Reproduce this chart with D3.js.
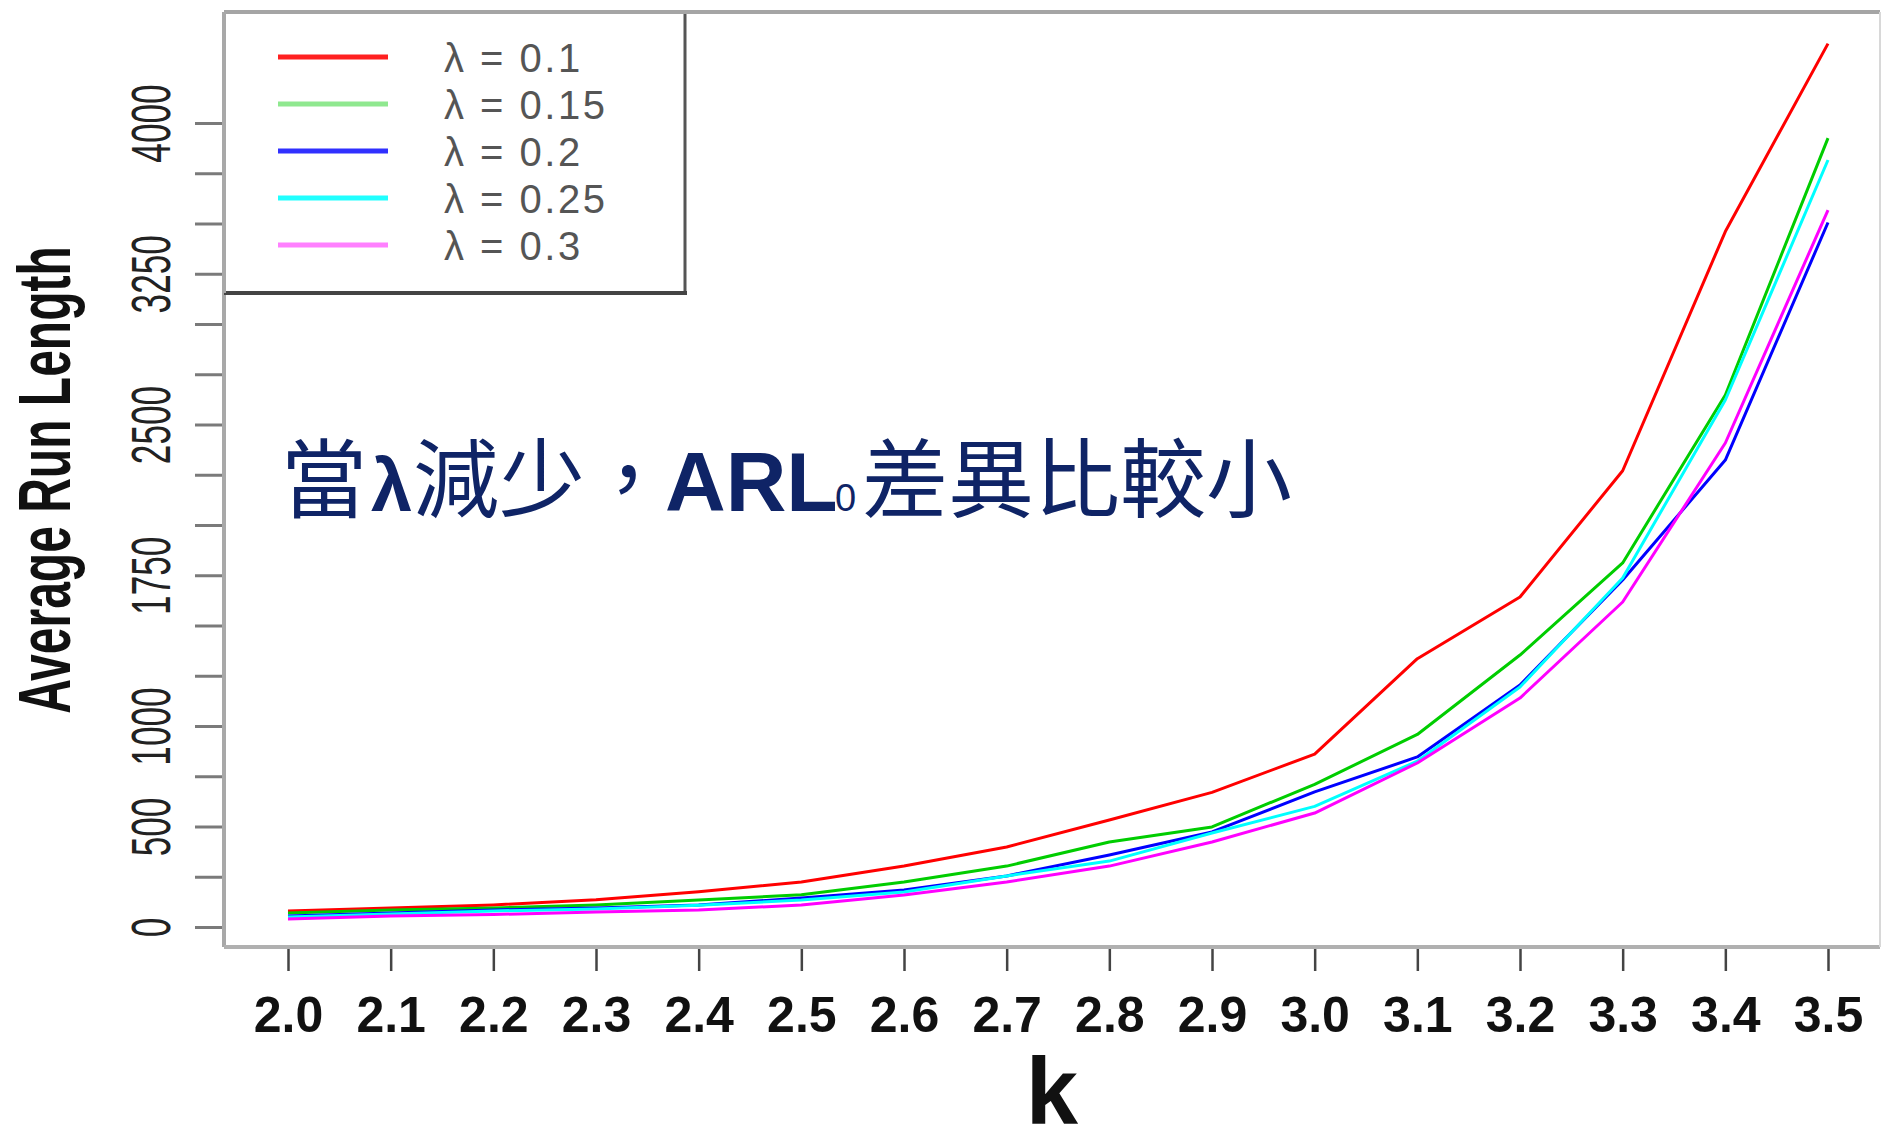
<!DOCTYPE html>
<html>
<head>
<meta charset="utf-8">
<script src="https://cdn.jsdelivr.net/npm/d3@7"></script>
<style>
  html, body { margin: 0; padding: 0; background: #fff; }
  svg { display: block; }
  .axis text { font-family: "Liberation Sans", Arial, sans-serif; }
</style>
</head>
<body>
<svg id="chart" width="1883" height="1145"></svg>
<script>
// k values on the x axis
const kValues = [2.0, 2.1, 2.2, 2.3, 2.4, 2.5, 2.6, 2.7, 2.8, 2.9, 3.0, 3.1, 3.2, 3.3, 3.4, 3.5];

// average run length
const arlLambda010 = [80, 95, 110, 135, 175, 224, 303, 398, 532, 670, 860, 1335, 1642, 2270, 3460, 4395];
const arlLambda015 = [70, 85, 95, 110, 134, 160, 224, 303, 423, 498, 710, 958, 1353, 1811, 2647, 3925];
const arlLambda020 = [55, 70, 85, 95, 110, 144, 184, 254, 358, 473, 672, 846, 1204, 1726, 2323, 3505];
const arlLambda025 = [50, 65, 80, 90, 108, 134, 174, 254, 328, 468, 600, 825, 1194, 1736, 2622, 3816];
const arlLambda030 = [40, 55, 62, 75, 85, 109, 159, 224, 303, 423, 567, 816, 1139, 1617, 2408, 3567];

const seriesNames = ["λ = 0.1", "λ = 0.15", "λ = 0.2", "λ = 0.25", "λ = 0.3"];
const seriesValues = [arlLambda010, arlLambda015, arlLambda020, arlLambda025, arlLambda030];

// tick marks every 250, labels only on some of them
const yTickMarks = [0, 250, 500, 750, 1000, 1250, 1500, 1750, 2000, 2250, 2500, 2750, 3000, 3250, 3500, 3750, 4000];
const yTickLabels = [0, 500, 1000, 1750, 2500, 3250, 4000];

const lineColors = ["#ff0000", "#00cd00", "#0000ff", "#00ffff", "#ff00ff"];
const legendColors = ["#ff2020", "#8fe88f", "#3030ff", "#20ffff", "#ff80ff"];

const FONT = '"Liberation Sans", Arial, sans-serif';
const CJK = '"Noto Sans CJK TC", "Noto Sans CJK SC", sans-serif';

const box = { left: 224, top: 12, right: 1880, bottom: 947 };

const svg = d3.select("#chart");
svg.append("rect").attr("width", 1883).attr("height", 1145).attr("fill", "#fff");

const x = d3.scaleLinear().domain([2.0, 3.5]).range([288, 1828]);
const y = d3.scaleLinear().domain([0, 4000]).range([927, 123]);

// x axis
const xAxis = svg.append("g")
  .attr("class", "axis axis-x")
  .attr("transform", `translate(0,${box.bottom + 2})`)
  .call(d3.axisBottom(x).tickValues(kValues).tickFormat(d3.format(".1f")).tickSize(22));
xAxis.select(".domain").remove();
xAxis.selectAll(".tick line").attr("stroke", "#444").attr("stroke-width", 2.5);
xAxis.selectAll(".tick text")
  .attr("y", 83).attr("dy", null)
  .attr("fill", "#111")
  .style("font-size", "50px")
  .style("font-weight", "bold")
  .style("font-family", FONT);

// y axis
const yAxis = svg.append("g")
  .attr("class", "axis axis-y")
  .attr("transform", `translate(${box.left - 2},0)`)
  .call(d3.axisLeft(y).tickValues(yTickMarks).tickSize(27)
    .tickFormat((d) => (yTickLabels.includes(d) ? d : "")));
yAxis.select(".domain").remove();
yAxis.selectAll(".tick line").attr("stroke", "#7a7a7a").attr("stroke-width", 3);
yAxis.selectAll(".tick text")
  .attr("x", null).attr("dy", null)
  .attr("transform", "translate(-52,0) rotate(-90) scale(0.64,1)")
  .attr("text-anchor", "middle")
  .attr("fill", "#222")
  .style("font-size", "55px")
  .style("font-family", FONT);

// plot box
svg.append("line").attr("x1", box.left).attr("x2", box.right).attr("y1", box.top).attr("y2", box.top)
  .attr("stroke", "#a5a5a5").attr("stroke-width", 4);
svg.append("line").attr("x1", box.left).attr("x2", box.left).attr("y1", box.top).attr("y2", box.bottom)
  .attr("stroke", "#a8a8a8").attr("stroke-width", 4);
svg.append("line").attr("x1", box.left).attr("x2", box.right).attr("y1", box.bottom).attr("y2", box.bottom)
  .attr("stroke", "#b0b0b0").attr("stroke-width", 4);
svg.append("line").attr("x1", box.right).attr("x2", box.right).attr("y1", box.top).attr("y2", box.bottom)
  .attr("stroke", "#d8d8d8").attr("stroke-width", 2);

// axis titles
svg.append("text")
  .attr("transform", "translate(70,480) rotate(-90) scale(0.64,1)")
  .attr("text-anchor", "middle")
  .attr("fill", "#111")
  .style("font-family", FONT)
  .style("font-size", "75px")
  .style("font-weight", "bold")
  .text("Average Run Length");

svg.append("text")
  .attr("x", (box.left + box.right) / 2)
  .attr("y", 1124)
  .attr("text-anchor", "middle")
  .attr("fill", "#111")
  .style("font-family", FONT)
  .style("font-size", "94px")
  .style("font-weight", "bold")
  .text("k");

// series lines
const line = d3.line()
  .x((d, i) => x(kValues[i]))
  .y((d) => y(d));

svg.append("g")
  .selectAll("path")
  .data(seriesValues)
  .join("path")
  .attr("d", line)
  .attr("fill", "none")
  .attr("stroke", (d, i) => lineColors[i])
  .attr("stroke-width", 3)
  .attr("stroke-linejoin", "round");

// legend
const legend = svg.append("g");
legend.append("rect")
  .attr("x", box.left).attr("y", box.top)
  .attr("width", 685 - box.left).attr("height", 293 - box.top)
  .attr("fill", "#fff");
legend.append("line").attr("x1", 685).attr("x2", 685).attr("y1", box.top).attr("y2", 293)
  .attr("stroke", "#555").attr("stroke-width", 3);
legend.append("line").attr("x1", box.left).attr("x2", 687).attr("y1", 293).attr("y2", 293)
  .attr("stroke", "#444").attr("stroke-width", 4);
legend.append("line").attr("x1", box.left).attr("x2", 687).attr("y1", box.top).attr("y2", box.top)
  .attr("stroke", "#a5a5a5").attr("stroke-width", 4);
legend.append("line").attr("x1", box.left).attr("x2", box.left).attr("y1", box.top).attr("y2", 293)
  .attr("stroke", "#a8a8a8").attr("stroke-width", 4);

const entries = legend.selectAll("g.entry")
  .data(seriesNames)
  .join("g")
  .attr("class", "entry")
  .attr("transform", (d, i) => `translate(0,${57 + i * 47})`);
entries.append("line")
  .attr("x1", 278).attr("x2", 388)
  .attr("stroke", (d, i) => legendColors[i])
  .attr("stroke-width", 5);
entries.append("text")
  .attr("x", 444).attr("y", 15)
  .attr("fill", "#555")
  .style("font-family", FONT)
  .style("font-size", "40px")
  .style("letter-spacing", "2.5px")
  .text((d) => d);

// annotation
const note = svg.append("text")
  .attr("y", 511)
  .attr("fill", "#0f2466")
  .style("font-size", "86px");
note.append("tspan").attr("x", 281).style("font-family", CJK).text("當");
note.append("tspan").attr("x", 371).style("font-family", FONT).style("font-weight", "bold").style("font-size", "74px").text("λ");
note.append("tspan").attr("x", 413).style("font-family", CJK).text("減少，");
note.append("tspan").attr("x", 665).style("font-family", FONT).style("font-weight", "bold").style("font-size", "84px").text("ARL");
note.append("tspan").attr("x", 835).style("font-family", FONT).style("font-size", "38px").text("0");
note.append("tspan").attr("x", 862).style("font-family", CJK).text("差異比較小");
</script>
</body>
</html>
